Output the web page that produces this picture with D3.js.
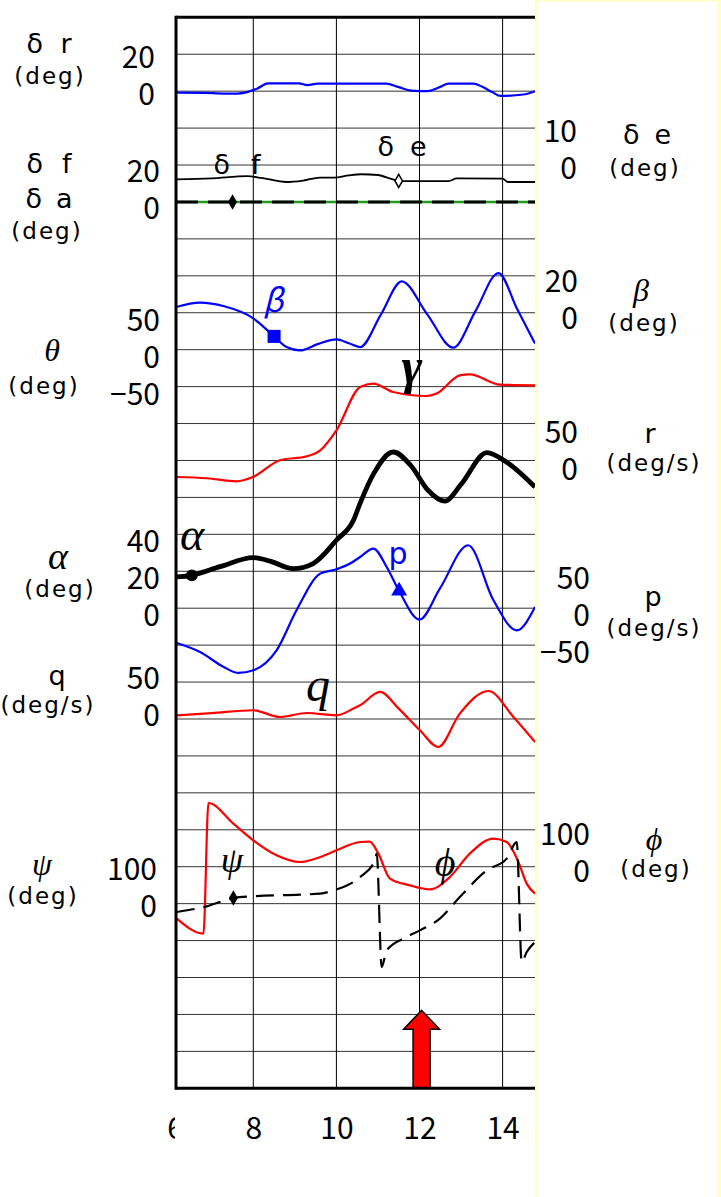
<!DOCTYPE html>
<html>
<head>
<meta charset="utf-8">
<script src="https://cdn.jsdelivr.net/npm/d3@7"></script>
<style>
  body { margin: 0; background: #fff; }
  svg { display: block; }
</style>
</head>
<body>
<svg id="chart"></svg>
<script>
// time axis (s)
const timeTicks = [6, 8, 10, 12, 14, 16];
const gridTimes = [8, 10, 12, 14];
const tStart = 6.14;

// [time, value] samples
const deltaR = [[6.14,-0.8],[6.8,-0.9],[7.3,-1.3],[7.6,-1.3],[7.85,-0.5],[8.1,1.5],[8.35,4.2],[9.1,4.2],[9.3,3.3],[9.55,4.1],[10.6,4.1],[11.2,4.1],[11.5,2.2],[11.8,0.3],[12.2,0],[12.45,1.8],[12.7,4.1],[13.3,4.1],[13.5,2.5],[13.75,-0.5],[13.95,-2.6],[14.5,-1.8],[14.78,0]];
const deltaF = [[6.14,0],[16,0]];
const deltaA = [[6.14,0],[16,0]];
const deltaE = [[6.14,-3.9],[7.0,-3.6],[7.85,-3.0],[8.2,-3.5],[8.8,-4.6],[9.2,-4.2],[9.6,-3.4],[9.95,-3.4],[10.3,-2.8],[10.6,-2.5],[11.0,-2.7],[11.36,-3.9],[11.6,-4.35],[12.7,-4.35],[12.9,-3.6],[14.0,-3.7],[14.13,-4.6],[14.78,-4.6]];
const theta = [[6.16,-172.4],[6.88,-174.1],[7.6,-178.2],[7.99,-172.4],[8.64,-149.7],[9.29,-144.3],[9.61,-136.2],[10.0,-109.1],[10.57,-50.5],[10.89,-45.9],[11.37,-57.3],[12.17,-62.7],[12.41,-59.4],[12.97,-34.7],[13.21,-33.3],[13.94,-47.3],[14.78,-48.2]];
const beta = [[6.14,3.1],[6.72,5.5],[7.3,3.5],[8.0,-3.0],[8.5,-12.8],[8.8,-18.6],[9.12,-20.4],[9.55,-17],[10.0,-14.4],[10.3,-16.5],[10.57,-18.6],[11.07,-1],[11.57,17],[12.19,-1],[12.81,-18.9],[13.35,1],[13.9,21.5],[14.35,2],[14.78,-16.7]];
const alpha = [[6.13,16.9],[6.52,17.8],[7.2,22.5],[8.0,27.4],[8.4,25.5],[8.96,21.4],[9.44,24.2],[10.0,36.8],[10.41,47.6],[10.57,56.8],[10.9,73],[11.37,84.6],[11.8,77],[12.2,64],[12.61,58],[13.0,67],[13.62,84.3],[14.1,79],[14.78,65.6]];
const pRate = [[6.16,-47.1],[6.72,-59.3],[7.3,-80],[7.64,-87.7],[8.0,-84.1],[8.56,-57],[9.04,-2.8],[9.61,46.8],[10.0,52.7],[10.33,60.4],[10.57,69.3],[10.89,80.7],[11.21,55.8],[11.51,23.3],[12.0,-15.4],[12.49,26.5],[13.17,85.2],[13.78,10.7],[14.34,-29.9],[14.78,1.6]];
const qRate = [[6.16,5],[7.0,8],[8.0,11.8],[8.64,2.7],[9.29,8.1],[10.0,5],[10.41,14.1],[10.57,18.5],[11.05,36.6],[11.5,14],[12.01,-15.3],[12.45,-37.9],[12.97,7.3],[13.66,37.9],[14.26,2.7],[14.78,-31.1]];
const psi = [[6.16,-22.7],[6.88,-7.3],[7.52,15.2],[8.0,19.8],[9.12,24.4],[9.61,27.1],[9.93,36],[10.41,58.5],[10.57,72],[10.93,117.2],[10.97,135.4],[11.09,-171.7],[11.21,-126.5],[11.69,-90.4],[12.01,-72.3],[12.49,-40.6],[12.97,17.9],[13.62,90.2],[14.1,121.9],[14.34,166.8],[14.46,-158.1],[14.58,-131.1],[14.78,-104]];
const phi = [[6.16,-140.5],[6.8,-181.2],[6.92,172.5],[7.52,116.7],[8.0,71.5],[8.56,30.9],[9.12,12.7],[9.61,26.3],[10.0,44.4],[10.57,66.9],[10.8,68],[11.01,35.5],[11.29,-32.2],[11.77,-50.4],[12.25,-61.2],[12.73,-27.9],[13.21,35.5],[13.78,76.1],[14.1,66.9],[14.38,12.7],[14.58,-45.8],[14.78,-72.8]];

// marker points [time, value]
const deltaFMark = [7.5, 0];
const deltaEMark = [11.5, -4.3];
const betaMark = [8.5, -12.8];
const alphaMark = [6.52, 17.8];
const pMark = [11.51, 23.3];
const psiMark = [7.52, 15.2];
const arrowTime = 12.05;

// tick labels of each axis
const ticksDr = [20, 0];
const ticksDf = [20, 0];
const ticksDe = [10, 0];
const ticksTheta = [50, 0, -50];
const ticksBeta = [20, 0];
const ticksR = [50, 0];
const ticksAlpha = [40, 20, 0];
const ticksP = [50, 0, -50];
const ticksQ = [50, 0];
const ticksPsi = [100, 0];
const ticksPhi = [100, 0];

const W = 721, H = 1197;
const SANS = "'Noto Sans CJK JP', 'Noto Sans', sans-serif";
const LATIN = "'DejaVu Sans', sans-serif";
const SERIF = "'Liberation Serif', 'DejaVu Serif', serif";
const nRows = 29;

const svg = d3.select("#chart").attr("width", W).attr("height", H);
svg.append("rect").attr("width", W).attr("height", H).attr("fill", "#fff");

const x = d3.scaleLinear().domain([6, 16]).range([170.2, 585.7]);
const row = d3.scaleLinear().domain([0, nRows]).range([17.3, 1088.3]);
const left = x(tStart), right = 537;

// value scale that puts 0 on grid row z and one step per row
function rowScale(z, step) {
    return d3.scaleLinear().domain([0, step]).range([row(z), row(z - 1)]);
}
const yDr = rowScale(2, 20);
const yDf = rowScale(5, 20);
const yDe = rowScale(4, 10);
const yTheta = rowScale(9, 50);
const yBeta = rowScale(8, 20);
const yR = rowScale(12, 50);
const yAlpha = rowScale(16, 20);
const yP = rowScale(16, 50);
const yQ = rowScale(19, 50);
const yPsi = rowScale(24, 100);
const yPhi = rowScale(23, 100);

svg.append("clipPath").attr("id", "plotClip")
    .append("rect").attr("x", left).attr("y", 0).attr("width", right - left).attr("height", H);

// grid
const grid = svg.append("g");
grid.selectAll("line.h")
    .data(d3.range(1, nRows))
    .join("line")
    .attr("class", "h")
    .attr("x1", left).attr("x2", right)
    .attr("y1", d => row(d)).attr("y2", d => row(d))
    .attr("stroke", "#333").attr("stroke-width", 1);
grid.selectAll("line.v")
    .data(gridTimes)
    .join("line")
    .attr("class", "v")
    .attr("x1", d => x(d)).attr("x2", d => x(d))
    .attr("y1", row(0)).attr("y2", row(nRows))
    .attr("stroke", "#000").attr("stroke-width", 1);

const plot = svg.append("g").attr("clip-path", "url(#plotClip)");

function drawLine(data, yScale, color, width, dash) {
    const line = d3.line()
        .x(d => x(d[0]))
        .y(d => yScale(d[1]))
        .curve(d3.curveMonotoneX);
    const p = plot.append("path")
        .datum(data)
        .attr("d", line)
        .attr("fill", "none")
        .attr("stroke", color)
        .attr("stroke-width", width)
        .attr("stroke-linejoin", "round");
    if (dash) p.attr("stroke-dasharray", dash);
    return p;
}

drawLine(deltaR, yDr, "#0000ff", 2.2);
drawLine(deltaA, yDf, "#1e9a1e", 2.5);
drawLine(deltaF, yDf, "#000", 3, "22,10");
drawLine(deltaE, yDe, "#000", 1.8);
drawLine(theta, yTheta, "#ff0000", 2.2);
drawLine(beta, yBeta, "#0000ff", 2.2);
drawLine(pRate, yP, "#0000ff", 2.2);
drawLine(qRate, yQ, "#ff0000", 2.2);
drawLine(alpha, yAlpha, "#000", 4.8);
drawLine(phi, yPhi, "#ff0000", 2.2);
drawLine(psi, yPsi, "#000", 2.2, "18,9");

// markers
const sym = (type, size) => d3.symbol().type(type).size(size)();
plot.append("path").attr("d", sym(d3.symbolDiamond, 70))
    .attr("transform", `translate(${x(deltaFMark[0])},${yDf(deltaFMark[1])})`).attr("fill", "#000");
plot.append("path").attr("d", sym(d3.symbolDiamond, 50))
    .attr("transform", `translate(${x(deltaEMark[0])},${yDe(deltaEMark[1])})`)
    .attr("fill", "#fff").attr("stroke", "#000").attr("stroke-width", 1.5);
plot.append("path").attr("d", sym(d3.symbolSquare, 170))
    .attr("transform", `translate(${x(betaMark[0])},${yBeta(betaMark[1])})`).attr("fill", "#0000ff");
plot.append("path").attr("d", sym(d3.symbolCircle, 110))
    .attr("transform", `translate(${x(alphaMark[0])},${yAlpha(alphaMark[1])})`).attr("fill", "#000");
plot.append("path").attr("d", sym(d3.symbolTriangle, 110))
    .attr("transform", `translate(${x(pMark[0])},${yP(pMark[1])})`).attr("fill", "#0000ff");
plot.append("path").attr("d", sym(d3.symbolDiamond, 70))
    .attr("transform", `translate(${x(psiMark[0])},${yPsi(psiMark[1])})`).attr("fill", "#000");

// red arrow at the event time
const ax = x(arrowTime), ab = row(nRows);
svg.append("path")
    .attr("d", `M${ax - 8.5},${ab} L${ax - 8.5},${ab - 59} L${ax - 18},${ab - 59} L${ax},${ab - 78} L${ax + 18},${ab - 59} L${ax + 8.5},${ab - 59} L${ax + 8.5},${ab} Z`)
    .attr("fill", "#ff0000").attr("stroke", "#000").attr("stroke-width", 1.5);

// frame
svg.append("line").attr("x1", left).attr("x2", right).attr("y1", row(0)).attr("y2", row(0))
    .attr("stroke", "#000").attr("stroke-width", 3);
svg.append("line").attr("x1", left).attr("x2", right).attr("y1", row(nRows)).attr("y2", row(nRows))
    .attr("stroke", "#000").attr("stroke-width", 3);
svg.append("line").attr("x1", left).attr("x2", left).attr("y1", row(0) - 1.5).attr("y2", row(nRows) + 1.5)
    .attr("stroke", "#000").attr("stroke-width", 3);

// x axis labels; the first one is mostly hidden, as in the source
const xAxis = svg.append("g")
    .attr("transform", `translate(0,${row(nRows) + 29})`)
    .call(d3.axisBottom(x).tickValues(timeTicks).tickSize(0).tickPadding(0));
xAxis.select(".domain").remove();
xAxis.selectAll("text").attr("font-size", 30).attr("font-family", SANS).attr("fill", "#000");
const firstTick = xAxis.selectAll(".tick").filter(d => d === 6);
firstTick.select("text").attr("dx", 5);
firstTick.append("clipPath").attr("id", "xClip")
    .append("rect").attr("x", -3).attr("y", -40).attr("width", 7.3).attr("height", 80);
firstTick.attr("clip-path", "url(#xClip)");

// right panel
svg.append("rect").attr("x", 536.5).attr("y", 0).attr("width", 183).attr("height", H + 5)
    .attr("fill", "#fff").attr("stroke", "#ffffc6").attr("stroke-width", 3);

// value axes (numbers right-aligned at xr)
function valueAxis(scale, ticks, xr, dy) {
    const g = svg.append("g")
        .attr("transform", `translate(${xr},${dy})`)
        .call(d3.axisLeft(scale).tickValues(ticks).tickSize(0).tickPadding(0));
    g.select(".domain").remove();
    g.selectAll("text").attr("font-size", 30).attr("font-family", SANS).attr("fill", "#000");
}
valueAxis(yDr, ticksDr, 155, 4);
valueAxis(yDf, ticksDf, 160, 7);
valueAxis(yTheta, ticksTheta, 160, 8);
valueAxis(yAlpha, ticksAlpha, 160, 8);
valueAxis(yQ, ticksQ, 160, -3);
valueAxis(yPsi, ticksPsi, 157, 3);
valueAxis(yDe, ticksDe, 577, 4);
valueAxis(yBeta, ticksBeta, 578, 6);
valueAxis(yR, ticksR, 578, 9);
valueAxis(yP, ticksP, 590, 8);
valueAxis(yPhi, ticksPhi, 590, 5);

function label(txt, cx, cy, size, opts = {}) {
    const t = svg.append("text")
        .attr("x", cx).attr("y", cy)
        .attr("text-anchor", "middle")
        .attr("dominant-baseline", "central")
        .attr("font-family", opts.font || (opts.serif ? SERIF : SANS))
        .attr("font-style", opts.italic ? "italic" : "normal")
        .attr("font-weight", opts.bold ? "bold" : "normal")
        .attr("font-size", size)
        .attr("fill", opts.color || "#000")
        .text(txt);
    if (opts.len) t.attr("textLength", opts.len).attr("lengthAdjust", "spacing");
    if (opts.spacing) t.attr("letter-spacing", opts.spacing);
}
const unit = (txt, cx, cy) => label(txt, cx + 1, cy, 23, { font: LATIN, spacing: 2 });

// axis names, left
label("δ r", 49, 43, 27, { font: LATIN, len: 45 });
unit("(deg)", 49, 76);
label("δ f", 49, 163, 27, { font: LATIN, len: 45 });
label("δ a", 49, 198, 27, { font: LATIN, len: 47 });
unit("(deg)", 46, 231);
label("θ", 52, 350, 32, { serif: true, italic: true });
unit("(deg)", 43, 386);
label("α", 58, 556, 38, { serif: true, italic: true });
unit("(deg)", 59, 589);
label("q", 57, 675, 27, { font: LATIN });
unit("(deg/s)", 47, 705);
label("ψ", 42, 864, 32, { serif: true, italic: true });
unit("(deg)", 42, 896);

// axis names, right
label("δ e", 647, 134, 27, { font: LATIN, len: 48 });
unit("(deg)", 644, 168);
label("β", 641, 290, 32, { serif: true, italic: true });
unit("(deg)", 643, 323);
label("r", 650, 433, 27, { font: LATIN });
unit("(deg/s)", 653, 463);
label("p", 653, 596, 27, { font: LATIN });
unit("(deg/s)", 653, 628);
label("ϕ", 654, 839, 32, { serif: true, italic: true });
unit("(deg)", 655, 869);

// series names inside the plot
label("δ f", 237, 164, 27, { font: LATIN, len: 47 });
label("δ e", 402, 146, 27, { font: LATIN, len: 49 });
label("β", 273, 298, 32, { italic: true, color: "#0000ff" });
label("γ", 412, 366, 50, { serif: true, italic: true, bold: true });
label("α", 192, 534, 46, { serif: true, italic: true });
label("p", 398, 553, 30, { font: LATIN, color: "#0000ff" });
label("q", 318, 684, 48, { serif: true, italic: true });
label("ψ", 232, 860, 36, { serif: true, italic: true });
label("ϕ", 445, 862, 40, { serif: true, italic: true });
</script>
</body>
</html>
